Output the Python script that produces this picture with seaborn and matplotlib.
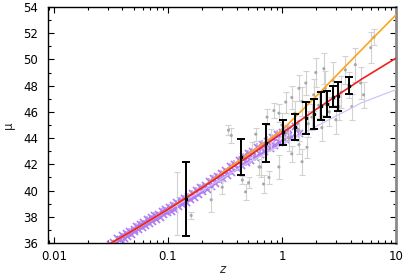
import numpy as np
import pandas as pd
import seaborn as sns
import matplotlib
matplotlib.use('Agg')
import matplotlib.pyplot as plt
from matplotlib.ticker import FuncFormatter, MultipleLocator, LogLocator

# model curves
line_z = [0.009, 0.02, 0.05, 0.1, 0.2, 0.5, 1.0, 2.0, 5.0, 10.0]
red_mu = [33.18, 34.98, 36.98, 38.56, 40.22, 42.55, 44.37, 46.2, 48.5, 50.1]
orange_mu = [33.18, 34.98, 36.98, 38.56, 40.25, 42.75, 44.6, 47.2, 50.75, 53.4]
purple_mu = [33.18, 34.97, 36.95, 38.5, 40.0, 42.1, 43.5, 44.9, 46.7, 47.7]

# supernovae
sn_z = [0.031, 0.033, 0.035, 0.036, 0.038, 0.040, 0.041, 0.043, 0.044, 0.046,
        0.048, 0.050, 0.051, 0.053, 0.055, 0.057, 0.059, 0.061, 0.063, 0.066,
        0.068, 0.071, 0.073, 0.076, 0.079, 0.082, 0.085, 0.088, 0.091, 0.095,
        0.098, 0.102, 0.106, 0.110, 0.114, 0.118, 0.123, 0.128, 0.133, 0.138,
        0.144, 0.150, 0.156, 0.163, 0.170, 0.177, 0.185, 0.193, 0.201, 0.21,
        0.22, 0.23, 0.24, 0.25, 0.26, 0.27, 0.28, 0.29, 0.30, 0.32,
        0.33, 0.35, 0.36, 0.38, 0.40, 0.42, 0.44, 0.46, 0.48, 0.50,
        0.52, 0.55, 0.58, 0.61, 0.64, 0.67, 0.70, 0.74, 0.78, 0.82,
        0.86, 0.90, 0.95, 1.00, 1.06, 1.12, 1.20, 1.30, 1.40]
sn_mu = [35.9, 36.1, 36.0, 36.35, 36.3, 36.6, 36.35, 36.75, 36.55, 36.95,
         36.7, 37.1, 36.9, 37.3, 37.05, 37.45, 37.2, 37.6, 37.35, 37.8,
         37.55, 37.95, 37.7, 38.1, 37.85, 38.25, 38.0, 38.45, 38.2, 38.6,
         38.35, 38.75, 38.45, 38.9, 38.6, 39.1, 38.8, 39.25, 39.0, 39.45,
         39.15, 39.6, 39.35, 39.85, 39.5, 40.05, 39.7, 40.25, 39.95, 40.45,
         40.15, 40.7, 40.35, 40.95, 40.55, 41.1, 40.8, 41.35, 40.95, 41.55,
         41.2, 41.85, 41.4, 42.05, 41.7, 42.35, 41.95, 42.6, 42.15, 42.85,
         42.3, 43.0, 42.55, 43.3, 42.8, 43.55, 43.0, 43.8, 43.25, 44.05,
         43.5, 44.3, 43.7, 44.5, 43.9, 44.7, 44.1, 44.9, 44.4]
sn_err = [0.2, 0.15, 0.25, 0.2, 0.15, 0.2, 0.25, 0.15, 0.2, 0.2,
          0.25, 0.15, 0.2, 0.2, 0.15, 0.25, 0.2, 0.15, 0.2, 0.25,
          0.2, 0.15, 0.2, 0.25, 0.2, 0.15, 0.2, 0.2, 0.25, 0.15,
          0.2, 0.2, 0.15, 0.25, 0.2, 0.2, 0.15, 0.25, 0.2, 0.2,
          0.15, 0.2, 0.25, 0.2, 0.15, 0.2, 0.2, 0.25, 0.2, 0.15,
          0.2, 0.25, 0.2, 0.2, 0.15, 0.25, 0.2, 0.2, 0.25, 0.2,
          0.2, 0.25, 0.2, 0.25, 0.2, 0.3, 0.2, 0.25, 0.3, 0.25,
          0.3, 0.25, 0.3, 0.3, 0.25, 0.3, 0.3, 0.35, 0.3, 0.3,
          0.35, 0.3, 0.35, 0.3, 0.35, 0.4, 0.35, 0.4, 0.4]

# quasars / GRBs (grey)
q_z = [0.12, 0.16, 0.24, 0.30, 0.34, 0.36, 0.45, 0.48, 0.51, 0.55,
       0.59, 0.63, 0.65, 0.69, 0.74, 0.77, 0.80, 0.85, 0.94, 0.94,
       1.00, 1.08, 1.08, 1.15, 1.22, 1.22, 1.30, 1.41, 1.41, 1.41,
       1.50, 1.50, 1.62, 1.66, 1.70, 1.83, 1.90, 1.98, 2.10, 2.24,
       2.33, 2.40, 2.60, 2.80, 2.97, 3.16, 3.30, 3.60, 3.87, 4.10,
       4.40, 4.90, 5.20, 6.00, 6.40]
q_mu = [39.0, 38.1, 39.3, 40.25, 44.6, 44.2, 40.8, 39.9, 40.6, 43.0,
        44.3, 41.8, 41.8, 40.5, 45.6, 41.0, 43.9, 46.1, 45.9, 41.8,
        45.0, 46.75, 44.4, 44.0, 47.1, 42.8, 45.9, 47.8, 43.5, 44.6,
        42.2, 46.8, 48.2, 43.3, 45.1, 45.6, 47.3, 49.0, 46.5, 44.8,
        49.3, 47.8, 46.0, 48.4, 45.4, 46.4, 47.5, 49.2, 48.05, 46.4,
        49.6, 48.2, 47.3, 50.9, 51.7]
q_err = [2.4, 0.3, 0.9, 0.5, 0.4, 0.6, 0.3, 0.6, 0.4, 0.7,
         0.5, 0.6, 0.8, 0.7, 0.6, 0.5, 0.8, 0.6, 0.7, 0.9,
         0.9, 0.8, 0.6, 1.0, 0.9, 0.6, 0.9, 1.0, 0.7, 0.8,
         1.0, 1.1, 0.9, 0.8, 1.0, 1.0, 1.2, 1.1, 1.0, 1.0,
         1.2, 1.3, 1.1, 1.4, 1.1, 1.0, 1.2, 1.1, 1.0, 1.0,
         1.3, 1.2, 1.0, 1.2, 0.6]

# binned averages (black)
bin_z = [0.144, 0.437, 0.724, 1.02, 1.30, 1.62, 1.91, 2.20, 2.48, 2.78, 3.10, 3.87]
bin_mu = [39.35, 42.55, 43.6, 44.45, 44.85, 45.55, 45.85, 46.45, 46.6, 47.15, 47.2, 48.0]
bin_err = [2.8, 1.37, 1.45, 0.95, 1.0, 1.2, 1.15, 1.05, 1.0, 0.8, 1.1, 0.65]

sns.set_theme(style='ticks')
plt.rcParams['font.family'] = ['DejaVu Sans']

fig = plt.figure(figsize=(4.07, 2.77), dpi=100)
ax = fig.add_axes([48 / 407, 34 / 277, 348 / 407, 236 / 277])

# supernovae cloud
ax.errorbar(sn_z, sn_mu, yerr=sn_err, fmt='none', ecolor='#c9a8fa', elinewidth=1.3, zorder=1)
sns.scatterplot(x=sn_z, y=sn_mu, marker='x', s=26, color='#b07cf2', linewidth=1.2, ax=ax, zorder=2)

# grey points
ax.errorbar(q_z, q_mu, yerr=q_err, fmt='none', ecolor='#d2d2d2', elinewidth=0.8,
            capsize=2.5, capthick=0.8, zorder=3)
sns.scatterplot(x=q_z, y=q_mu, s=5, color='#a8a8a8', edgecolor='none', ax=ax, zorder=4)

# models
sns.lineplot(x=line_z, y=purple_mu, color='#d2c2f5', linewidth=0.9, ax=ax, zorder=5)
sns.lineplot(x=line_z, y=orange_mu, color='#ffa31a', linewidth=1.2, ax=ax, zorder=6)
sns.lineplot(x=line_z, y=red_mu, color='#f02020', linewidth=1.2, ax=ax, zorder=7)

# binned
ax.errorbar(bin_z, bin_mu, yerr=bin_err, fmt='s', color='black', markersize=2,
            elinewidth=1.4, capsize=3, capthick=1.4, zorder=8)

ax.set_xscale('log')
ax.set_xlim(0.0089, 10)
ax.set_ylim(36, 54)
ax.xaxis.set_major_locator(LogLocator(base=10))
ax.xaxis.set_minor_locator(LogLocator(base=10, subs=np.arange(2, 10)))
ax.xaxis.set_major_formatter(FuncFormatter(lambda v, p: f'{v:g}'))
ax.xaxis.set_minor_formatter(FuncFormatter(lambda v, p: ''))
ax.yaxis.set_major_locator(MultipleLocator(2))
ax.yaxis.set_minor_locator(MultipleLocator(1))

ax.tick_params(which='both', direction='in', top=True, right=True,
               labelsize=8.5, colors='black', width=0.8)
ax.tick_params(which='major', length=4)
ax.tick_params(which='minor', length=2)
ax.tick_params(axis='y', pad=7)
ax.tick_params(axis='x', pad=5)

for s in ['left', 'top', 'bottom']:
    ax.spines[s].set_color('black')
    ax.spines[s].set_linewidth(1.0)
ax.spines['right'].set_color('#8a8a8a')
ax.spines['right'].set_linewidth(2.0)

ax.set_xlabel('z', fontsize=8.5, style='italic', labelpad=0)
ax.set_ylabel('μ', fontsize=8.5, labelpad=6)

fig.savefig('out.png', dpi=100)
